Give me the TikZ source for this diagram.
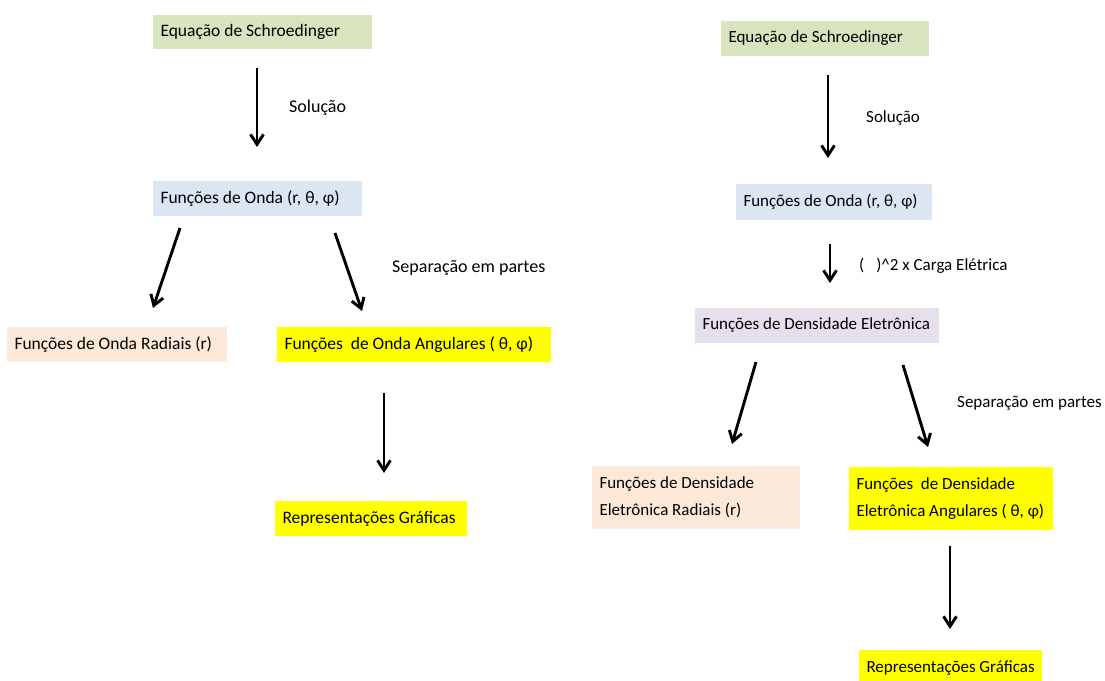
\documentclass[tikz,border=0pt]{standalone}
\usepackage{fontspec}
\setmainfont{Carlito}
\usetikzlibrary{arrows.meta,calc}
\definecolor{cgreen}{HTML}{D7E4BD}
\definecolor{cblue}{HTML}{DCE6F2}
\definecolor{cpeach}{HTML}{FDE9D9}
\definecolor{clav}{HTML}{E5E0EC}
\definecolor{cyel}{HTML}{FFFF00}
\begin{document}
\begin{tikzpicture}[x=1pt,y=-1pt,
  fL/.style={font=\fontsize{17.5}{27}\selectfont, text=black},
  fLl/.style={font=\fontsize{18}{27}\selectfont, text=black},
  fR/.style={font=\fontsize{17}{27}\selectfont, text=black},
  box/.style={rectangle, anchor=north west, inner xsep=7.5pt, inner ysep=0pt, outer sep=0pt, align=flush left, text width=#1-15pt},
  lbl/.style={anchor=west, inner sep=0pt},
  arr/.style={line width=2.9pt, -{Straight Barb[length=10pt,width=13pt,line width=2.9pt]}}
]
\clip (0,0) rectangle (1105,680);
\useasboundingbox (0,0) rectangle (1105,680);
% ---- left diagram ----
\node[box=219pt, fL, fill=cgreen, minimum height=34pt] (eqL) at (153,15) {\mbox{Equação de Schroedinger}};
\node[box=209pt, fL, fill=cblue, minimum height=35pt] (ondaL) at (153,181) {\mbox{Funções de Onda (r, θ, φ)}};
\node[box=220pt, fL, fill=cpeach, minimum height=35pt] (radL) at (7,327) {\mbox{Funções de Onda Radiais (r)}};
\node[box=274pt, fL, fill=cyel, minimum height=35pt] (angL) at (277,327) {\mbox{Funções\ \ de Onda Angulares ( θ, φ)}};
\node[box=192pt, fL, fill=cyel, minimum height=35pt] (repL) at (275,501) {\mbox{Representações Gráficas}};
\node[lbl, fLl] (solL) at (289,108) {Solução};
\node[lbl, fLl] (sepL) at (392,268) {Separação em partes};
\draw[arr] ($(eqL.south west)+(104,19)$) -- ($(ondaL.north west)+(104,-34)$);
\draw[arr] ($(ondaL.south west)+(27,12)$) -- ($(radL.north west)+(146,-19)$);
\draw[arr] ($(ondaL.south west)+(182,17)$) -- ($(angL.north west)+(85,-16)$);
\draw[arr] ($(angL.south west)+(107,31)$) -- ($(repL.north west)+(109,-28)$);
% ---- right diagram ----
\node[box=208pt, fR, fill=cgreen, minimum height=35pt] (eqR) at (721,21) {\mbox{Equação de Schroedinger}};
\node[box=196pt, fR, fill=cblue, minimum height=36pt] (ondaR) at (736,184) {\mbox{Funções de Onda (r, θ, φ)}};
\node[box=244pt, fR, fill=clav, minimum height=35pt] (densR) at (695,308) {\mbox{Funções de Densidade Eletrônica}};
\node[box=208pt, fR, fill=cpeach, minimum height=63pt] (radR) at (592,466) {\mbox{Funções de Densidade}\\\mbox{Eletrônica Radiais (r)}};
\node[box=204pt, fR, fill=cyel, minimum height=63pt] (angR) at (849,467) {\mbox{Funções\ \ de Densidade}\\\mbox{Eletrônica Angulares ( θ, φ)}};
\node[box=183pt, fR, fill=cyel, minimum height=36pt] (repR) at (859,650) {\mbox{Representações Gráficas}};
\node[lbl, fR] (solR) at (866,118) {Solução};
\node[lbl, fR] (carga) at (859,266) {(\hspace{12pt})\textasciicircum 2 x Carga Elétrica};
\node[lbl, fR] (sepR) at (957,403) {Separação em partes};
\draw[arr] ($(eqR.south west)+(107,19)$) -- ($(ondaR.north west)+(92,-26)$);
\draw[arr] ($(ondaR.south west)+(94,24)$) -- ($(densR.north west)+(135,-25)$);
\draw[arr] ($(densR.south west)+(61,19)$) -- ($(radR.north west)+(140,-22)$);
\draw[arr] ($(densR.south west)+(208,22)$) -- ($(angR.north west)+(79,-20)$);
\draw[arr] ($(angR.south west)+(101,16)$) -- ($(repR.north west)+(91,-21)$);
\end{tikzpicture}
\end{document}
